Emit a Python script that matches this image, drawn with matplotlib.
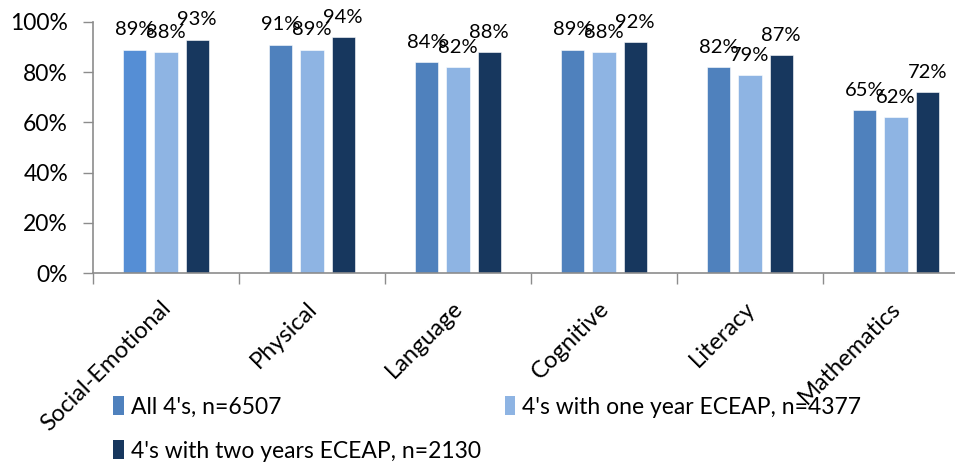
import numpy as np
import matplotlib
matplotlib.use('Agg')
import matplotlib.pyplot as plt
from matplotlib.patches import Patch

categories = ['Social-Emotional', 'Physical', 'Language', 'Cognitive', 'Literacy', 'Mathematics']
all_fours = [89, 91, 84, 89, 82, 65]
one_year = [88, 89, 82, 88, 79, 62]
two_years = [93, 94, 88, 92, 87, 72]
series_names = ["All 4's, n=6507", "4's with one year ECEAP, n=4377",
                "4's with two years ECEAP, n=2130"]
yticks = [0, 20, 40, 60, 80, 100]

plt.rcParams['font.family'] = ['Lato', 'DejaVu Sans']

colors = ['#4F81BD', '#8EB4E3', '#17375E']
first_bar_color = '#558ED5'
axis_grey = '#8C8C8C'

fig = plt.figure(figsize=(9.55, 4.65), dpi=100)
ax = fig.add_axes([93 / 955, 192 / 465, 876 / 955, 251 / 465])

x = np.arange(len(categories)) + 0.5
width = 0.16
step = 0.214
for i, (vals, col) in enumerate(zip([all_fours, one_year, two_years], colors)):
    pos = x + (i - 1) * step
    bar_colors = [col] * len(vals)
    if i == 0:
        bar_colors[0] = first_bar_color
    ax.bar(pos, vals, width=width, color=bar_colors, edgecolor='white', linewidth=0.4)
    for px, v in zip(pos, vals):
        ax.annotate(f'{v}%', (px, v), xytext=(0, 8), textcoords='offset points',
                    ha='center', va='bottom', fontsize=14.5, color='black')

ax.set_xlim(0, len(categories))
ax.set_ylim(0, 100)
ax.set_yticks(yticks)
ax.set_yticklabels([f'{t}%' for t in yticks], fontsize=16.5)
ax.set_xticks(np.arange(len(categories) + 1))
ax.set_xticklabels([])
ax.tick_params(axis='x', direction='out', length=8, color=axis_grey, width=1)
ax.tick_params(axis='y', direction='out', length=7, color=axis_grey, width=1, pad=11)

for c, cx in zip(categories, x):
    ax.annotate(c, (cx, 0), xytext=(1, -23), textcoords='offset points',
                rotation=45, rotation_mode='anchor', ha='right', va='center',
                fontsize=17, annotation_clip=False)

for s in ['top', 'right']:
    ax.spines[s].set_visible(False)
for s in ['left', 'bottom']:
    ax.spines[s].set_color(axis_grey)
    ax.spines[s].set_linewidth(1.2)

handles = [Patch(facecolor=c, edgecolor='none') for c in colors]
order = [0, 2, 1]
fig.legend([handles[i] for i in order], [series_names[i] for i in order],
           loc='upper left', bbox_to_anchor=(102 / 955, 1 - 385 / 465),
           ncol=2, frameon=False, fontsize=16.5, handlelength=0.45, handleheight=0.85,
           handletextpad=0.3, labelspacing=1.0, columnspacing=1.05, borderpad=0)

fig.savefig('out.png', dpi=100)
